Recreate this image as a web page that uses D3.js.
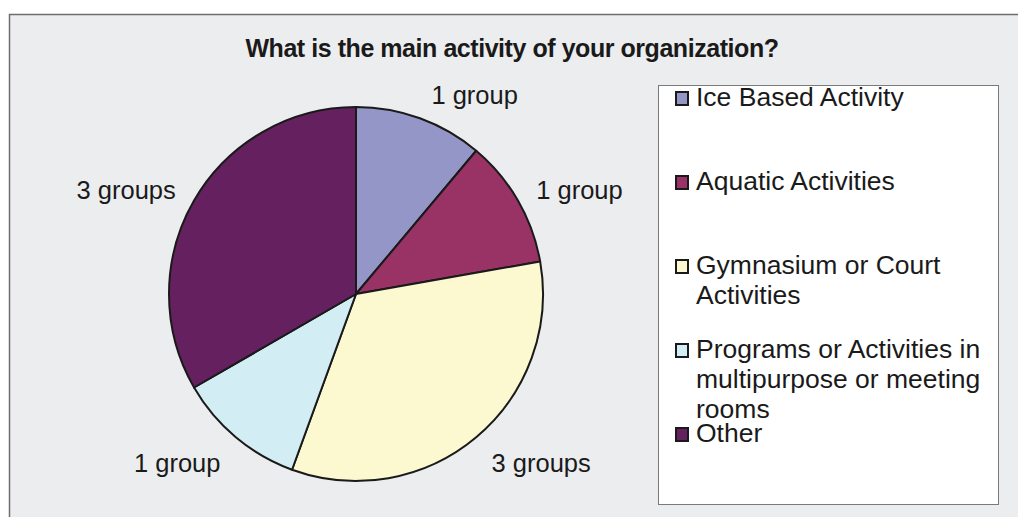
<!DOCTYPE html>
<html>
<head>
<meta charset="utf-8">
<script src="https://cdn.jsdelivr.net/npm/d3@7"></script>
<style>
  body { margin: 0; background: #fff; }
  svg text { font-family: "Liberation Sans", Arial, sans-serif; fill: #1a1a1a; }
</style>
</head>
<body>
<svg id="chart" width="1018" height="517"></svg>
<script>
// data
const categories = ["Ice Based Activity", "Aquatic Activities", "Gymnasium or Court Activities",
  "Programs or Activities in multipurpose or meeting rooms", "Other"];
const values = [1, 1, 3, 1, 3];
const sliceLabels = ["1 group", "1 group", "3 groups", "1 group", "3 groups"];
// legend text split the way the original wraps it
const legendLines = [["Ice Based Activity"], ["Aquatic Activities"], ["Gymnasium or Court", "Activities"],
  ["Programs or Activities in", "multipurpose or meeting", "rooms"], ["Other"]];
const colors = ["#9596c8", "#993366", "#fcf8cf", "#d3edf4", "#652060"];
const title = "What is the main activity of your organization?";

const width = 1018, height = 517;
const svg = d3.select("#chart");

// outer chart area
svg.append("rect")
  .attr("x", 9.5).attr("y", 14.5)
  .attr("width", width + 10).attr("height", height + 10)
  .attr("fill", "#ecedef")
  .attr("stroke", "#6e6e6e")
  .attr("stroke-width", 1.5);

svg.append("text")
  .attr("x", 512).attr("y", 57)
  .attr("text-anchor", "middle")
  .style("font-size", "25px")
  .style("font-weight", "bold")
  .style("letter-spacing", "-0.45px")
  .text(title);

// pie
const cx = 356, cy = 294, r = 187;
const color = d3.scaleOrdinal().domain(categories).range(colors);
const pie = d3.pie().sort(null).value(d => d.value);
const arcs = pie(categories.map((c, i) => ({name: c, value: values[i], label: sliceLabels[i]})));
const arc = d3.arc().innerRadius(0).outerRadius(r);

const g = svg.append("g").attr("transform", `translate(${cx},${cy})`);
g.selectAll("path")
  .data(arcs)
  .enter().append("path")
  .attr("d", arc)
  .attr("fill", d => color(d.data.name))
  .attr("stroke", "#1a1a1a")
  .attr("stroke-width", 2)
  .attr("stroke-linejoin", "round");

// outside-end labels
g.selectAll("text.lbl")
  .data(arcs)
  .enter().append("text")
  .attr("class", "lbl")
  .style("font-size", "25.5px")
  .attr("text-anchor", d => Math.sin((d.startAngle + d.endAngle) / 2) >= 0 ? "start" : "end")
  .attr("x", d => {
    const a = (d.startAngle + d.endAngle) / 2;
    return 200 * Math.sin(a) + (Math.sin(a) >= 0 ? 7 : -7);
  })
  .attr("y", d => {
    const a = (d.startAngle + d.endAngle) / 2;
    return -200 * Math.cos(a) - 16 * Math.cos(a) + 5 + 8;
  })
  .text(d => d.data.label);

// legend
const lg = svg.append("g");
lg.append("rect")
  .attr("x", 658.5).attr("y", 85.5)
  .attr("width", 340).attr("height", 419)
  .attr("fill", "#fff")
  .attr("stroke", "#7a7a7a")
  .attr("stroke-width", 1);

const item = lg.selectAll("g.item")
  .data(categories)
  .enter().append("g")
  .attr("class", "item")
  .attr("transform", (d, i) => `translate(0,${106 + i * 84})`);

item.append("rect")
  .attr("x", 676).attr("y", -14)
  .attr("width", 12).attr("height", 13)
  .attr("fill", d => color(d))
  .attr("stroke", "#1a1a1a")
  .attr("stroke-width", 2);

item.append("text")
  .attr("x", 696)
  .style("font-size", "26.5px")
  .selectAll("tspan")
  .data((d, i) => legendLines[i])
  .enter().append("tspan")
  .attr("x", 696)
  .attr("dy", (d, j) => j === 0 ? 0 : 30)
  .text(d => d);
</script>
</body>
</html>
